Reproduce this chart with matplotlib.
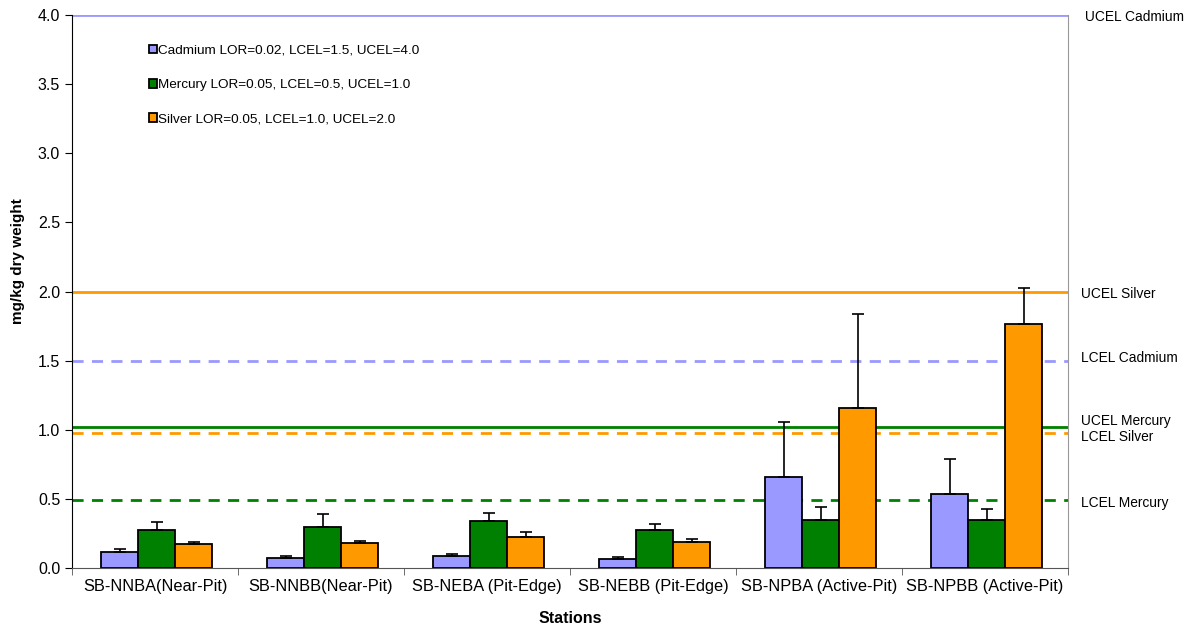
import numpy as np
import matplotlib.pyplot as plt
import matplotlib.transforms as mtransforms

plt.rcParams['font.family'] = ['Liberation Sans', 'DejaVu Sans']

# stations and mean concentrations (mg/kg dry weight)
stations = ['SB-NNBA(Near-Pit)', 'SB-NNBB(Near-Pit)', 'SB-NEBA (Pit-Edge)',
            'SB-NEBB (Pit-Edge)', 'SB-NPBA (Active-Pit)', 'SB-NPBB (Active-Pit)']
cadmium = [0.113, 0.070, 0.089, 0.065, 0.656, 0.535]
mercury = [0.275, 0.294, 0.342, 0.275, 0.350, 0.345]
silver = [0.173, 0.178, 0.224, 0.186, 1.155, 1.765]

# upper error bar lengths
cadmium_err = [0.024, 0.015, 0.012, 0.015, 0.402, 0.253]
mercury_err = [0.058, 0.096, 0.056, 0.043, 0.089, 0.082]
silver_err = [0.017, 0.019, 0.034, 0.026, 0.682, 0.260]

legend_labels = ['Cadmium LOR=0.02, LCEL=1.5, UCEL=4.0',
                 'Mercury LOR=0.05, LCEL=0.5, UCEL=1.0',
                 'Silver LOR=0.05, LCEL=1.0, UCEL=2.0']

# guideline levels (slightly offset in the original so they don't overlap)
line_names = ['UCEL Cadmium', 'UCEL Silver', 'LCEL Cadmium',
              'UCEL Mercury', 'LCEL Silver', 'LCEL Mercury']
line_values = [4.0, 2.0, 1.5, 1.02, 0.98, 0.49]
label_y = [3.985, 1.98, 1.52, 1.065, 0.945, 0.47]

col_cd = '#9999FF'
col_hg = '#008000'
col_ag = '#FF9900'
line_colors = [col_cd, col_ag, col_cd, col_hg, col_ag, col_hg]
line_styles = ['-', '-', '--', '-', '--', '--']
label_x = [1.017, 1.013, 1.013, 1.013, 1.013, 1.013]

fig = plt.figure(figsize=(11.91, 6.32), dpi=100)
ax = fig.add_axes([72 / 1191, 1 - 568 / 632, 996 / 1191, 553 / 632])

x = np.arange(len(stations)) + 0.01
width = 0.223

for val, col, ls in zip(line_values, line_colors, line_styles):
    ax.axhline(val, color=col, lw=2, ls=ls, dashes=(4, 3) if ls == '--' else (None, None),
               zorder=1)

series = [(cadmium, cadmium_err, col_cd), (mercury, mercury_err, col_hg), (silver, silver_err, col_ag)]
for i, (vals, err, col) in enumerate(series):
    ax.bar(x + (i - 1) * width, vals, width, color=col, edgecolor='black', lw=1.3,
           label=legend_labels[i], zorder=2,
           yerr=[np.zeros(len(vals)), err], capsize=4,
           error_kw=dict(ecolor='black', elinewidth=1.2, capthick=1.2, zorder=3))

trans = mtransforms.blended_transform_factory(ax.transAxes, ax.transData)
for name, yy, xx in zip(line_names, label_y, label_x):
    ax.text(xx, yy, name, transform=trans, fontsize=9.9, va='center', ha='left')

ax.set_xlim(-0.5, len(stations) - 0.5)
ax.set_ylim(0, 4.0)
ax.set_yticks(np.arange(0, 4.01, 0.5))
ax.set_yticklabels(['%.1f' % v for v in np.arange(0, 4.01, 0.5)], fontsize=11.5)
ax.set_xticks(np.arange(len(stations)))
ax.set_xticklabels(stations, fontsize=11.8)
ax.tick_params(axis='x', length=0, pad=8)
ax.set_xticks(np.arange(-0.5, len(stations), 1), minor=True)
ax.tick_params(axis='x', which='minor', length=5, color='#555555', direction='out')
ax.tick_params(axis='y', length=5, direction='out')

ax.spines['top'].set_visible(False)
ax.spines['right'].set_color('#999999')
ax.spines['bottom'].set_color('#555555')

ax.set_xlabel('Stations', fontsize=11.5, fontweight='bold')
ax.xaxis.set_label_coords(0.5, -0.078)
ax.set_ylabel('mg/kg dry weight', fontsize=11, fontweight='bold')
ax.yaxis.set_label_coords(-0.047, 0.555)

leg = ax.legend(loc='upper left', bbox_to_anchor=(0.065, 0.968), frameon=False,
                fontsize=9.7, handlelength=0.6, handleheight=0.6, handletextpad=0.1,
                labelspacing=1.65)

fig.savefig('out.png', dpi=100)
